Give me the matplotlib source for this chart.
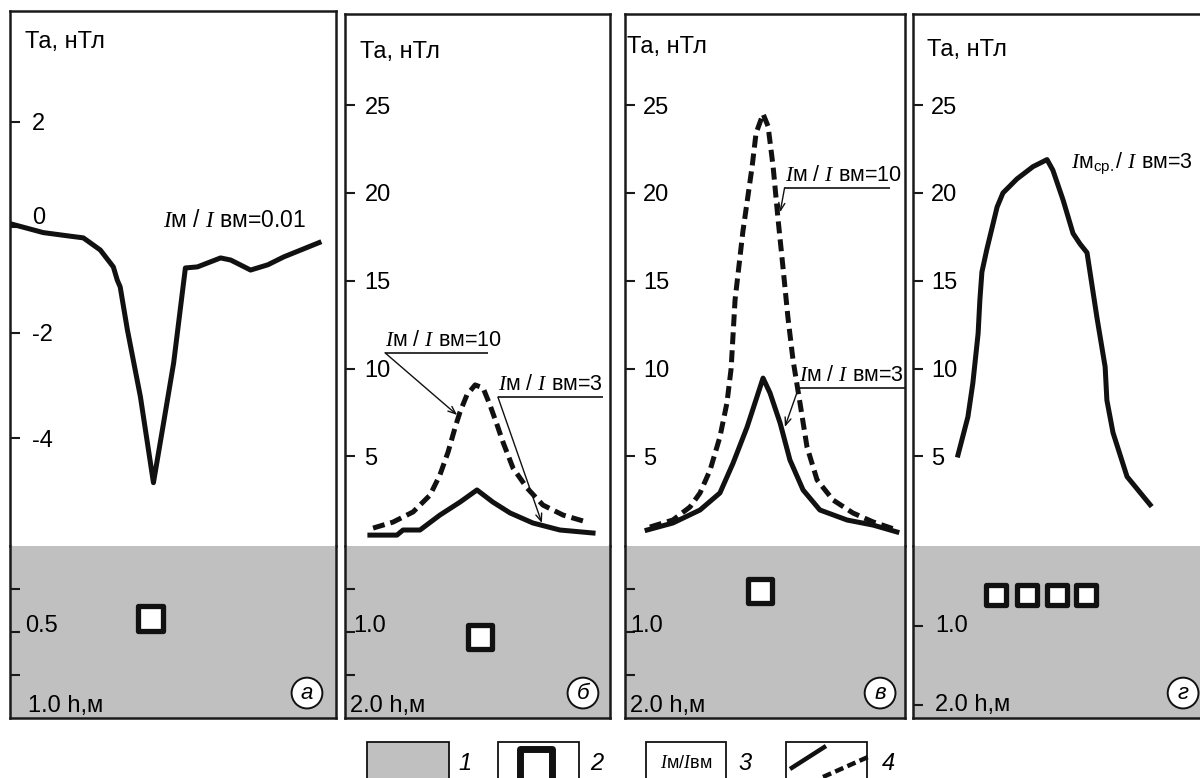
import numpy as np
import matplotlib
matplotlib.use("Agg")
from matplotlib import pyplot as plt
from matplotlib.markers import MarkerStyle
from matplotlib.patches import Rectangle

plt.rcParams['font.family'] = ['Liberation Sans', 'DejaVu Sans']
plt.rcParams['mathtext.fontset'] = 'custom'
plt.rcParams['mathtext.it'] = 'Liberation Serif:italic'
plt.rcParams['mathtext.rm'] = 'Liberation Sans'

W, H = 1200, 778
INK = '#111111'
GRAY = '#c0c0c0'
FS = 17
FS_R = 15.5

# ---- data (x: position along profile, 0..100 of panel width) ----
# panel а : Im/Ivm = 0.01
a_x = [0, 10.2, 17.5, 22.5, 27.7, 31.7, 32.9, 33.8, 36.0, 40.0, 44.0, 47.1,
       50.2, 53.8, 57.5, 64.6, 67.7, 73.8, 79.1, 84.0, 94.8]
a_ta = [0.07, -0.10, -0.16, -0.20, -0.43, -0.75, -1.00, -1.13, -1.94, -3.21,
        -4.84, -3.71, -2.57, -0.77, -0.75, -0.58, -0.62, -0.81, -0.71, -0.56, -0.29]

# panel б
b10_x = [10.6, 18.1, 25.7, 32.1, 35.8, 38.9, 41.5, 43.4, 46.0, 49.1, 52.1,
         54.7, 57.4, 59.6, 63.4, 68.7, 74.7, 82.3, 91.3]
b10_ta = [0.92, 1.26, 1.84, 2.80, 3.94, 5.25, 6.62, 7.53, 8.50, 9.07, 8.90,
          7.93, 6.79, 5.82, 4.34, 3.20, 2.23, 1.66, 1.26]
b3_x = [9.4, 19.6, 21.9, 28.3, 35.8, 43.4, 49.8, 55.8, 62.3, 70.9, 81.1, 93.6]
b3_ta = [0.52, 0.52, 0.81, 0.81, 1.66, 2.40, 3.09, 2.40, 1.78, 1.21, 0.81, 0.64]

# panel в
c10_x = [8.9, 17.1, 23.2, 26.8, 30.4, 33.9, 36.4, 37.9, 39.3, 42.1, 45.4, 46.8,
         49.3, 51.1, 52.9, 54.6, 56.4, 58.2, 60.0, 62.5, 65.0, 68.6, 74.3,
         81.4, 88.6, 97.1]
c10_ta = [0.98, 1.38, 2.12, 2.92, 4.23, 6.11, 8.04, 10.0, 13.9, 17.8, 21.5, 23.4,
          24.5, 23.8, 21.5, 18.6, 15.8, 12.9, 10.5, 8.04, 5.54, 3.66, 2.52,
          1.78, 1.27, 0.81]
c3_x = [7.9, 17.1, 26.8, 33.9, 38.6, 43.6, 47.1, 49.3, 51.8, 55.4, 58.9, 63.6,
        69.6, 79.3, 88.6, 97.1]
c3_ta = [0.81, 1.21, 1.95, 2.92, 4.62, 6.67, 8.38, 9.46, 8.61, 6.90, 4.80, 3.09,
         1.95, 1.38, 1.09, 0.70]

# panel г : Im ср./Ivm = 3
d_x = [15.4, 18.8, 20.5, 22.3, 22.9, 23.6, 25.3, 28.8, 30.8, 35.6, 41.1, 45.9,
       47.9, 51.4, 54.8, 57.2, 59.6, 63.0, 65.8, 66.4, 68.5, 73.3, 81.2]
d_ta = [5.08, 7.25, 9.18, 12.0, 13.9, 15.5, 16.8, 19.2, 20.0, 20.8, 21.5, 21.9,
        21.3, 19.6, 17.7, 17.1, 16.6, 12.9, 10.1, 8.2, 6.35, 3.85, 2.25]

# bodies (x, depth in m)
a_body_x, a_body_h = [42.9], [0.42]
b_body_x, b_body_h = [50.9], [1.06]
c_body_x, c_body_h = [48.2], [0.52]
d_body_x, d_body_h = [28.4, 39.0, 49.3, 59.2], [0.62, 0.62, 0.62, 0.62]

ticks_a = [-4, -2, 0, 2]
ticks_bcd = [5, 10, 15, 20, 25]

GRAY_TOP = 546
BOTTOM = 718


def frac(l, t, r, b):
    return [l / W, 1 - b / H, (r - l) / W, (b - t) / H]


def style_spines(ax, hide):
    for k, s in ax.spines.items():
        s.set_linewidth(1.8)
        s.set_color('#1a1a1a')
    ax.spines[hide].set_visible(False)


def panel(left, top, right, ta_lim, ta_ticks, ta_labels, pad, h_lim, h_ticks):
    top_ax = fig.add_axes(frac(left, top, right, GRAY_TOP))
    bot_ax = fig.add_axes(frac(left, GRAY_TOP, right, BOTTOM))
    style_spines(top_ax, 'bottom')
    style_spines(bot_ax, 'top')
    bot_ax.set_facecolor(GRAY)
    for ax in (top_ax, bot_ax):
        ax.set_xlim(0, 100)
        ax.set_xticks([])
        ax.tick_params(axis='y', direction='in', length=7, width=1.5,
                       color='#1a1a1a', labelsize=FS, pad=pad)
    top_ax.set_ylim(*ta_lim)
    top_ax.set_yticks(ta_ticks)
    top_ax.set_yticklabels(ta_labels)
    plt.setp(top_ax.get_yticklabels(), ha='left')
    bot_ax.set_ylim(*h_lim)
    bot_ax.set_yticks(h_ticks)
    bot_ax.set_yticklabels([])
    return top_ax, bot_ax


def body(ax, xs, hs, ms):
    mk = MarkerStyle('s', joinstyle='round')
    ax.plot(xs, hs, ls='none', marker=mk, ms=ms, mfc='white', mec=INK, mew=3.8)


def ratio_label(ax, x0, x1, y, tip, text):
    lo, hi = ax.get_ylim()
    ax.text(x0, y + 0.004 * (hi - lo), text, fontsize=FS_R, ha='left', va='bottom')
    ax.plot([x0, x1], [y, y], color=INK, lw=1.2, solid_capstyle='butt')
    ax.annotate('', xy=tip, xytext=(x0, y),
                arrowprops=dict(arrowstyle='->,head_length=0.55,head_width=0.22',
                                lw=1.0, color=INK, shrinkA=0, shrinkB=0))


def circ(ax, x, letter):
    ax.text(x, 0.145, letter, transform=ax.transAxes, fontsize=16, style='italic',
            ha='center', va='center',
            bbox=dict(boxstyle='circle,pad=0.22', fc='white', ec=INK, lw=1.4))


fig = plt.figure(figsize=(12, 7.78), dpi=100)

lab_r = '$I$м / $I$ вм='
lab_bcd = [str(v) for v in ticks_bcd]

# ---- а ----
ta, ha = panel(10, 11, 336, (-6.04, 4.10), ticks_a, ['-4', '-2', '', '2'], -16,
               (1.0, 0), [0.25, 0.5, 0.75])
ta.plot(a_x, a_ta, color=INK, lw=3.6, solid_joinstyle='round')
ta.text(0.067, 0.17, '0', fontsize=FS, va='center', transform=ta.get_yaxis_transform())
ta.text(47.0, 0.0, lab_r + '0.01', fontsize=16.5, ha='left', va='baseline')
ta.text(0.046, 0.942, 'Та, нТл', transform=ta.transAxes, fontsize=FS, va='center')
body(ha, a_body_x, a_body_h, 18)
ha.text(0.046, 0.5, '0.5', fontsize=FS, va='baseline',
        transform=ha.get_yaxis_transform())
ha.text(0.055, 0.035, '1.0 h,м', fontsize=FS, va='baseline', transform=ha.transAxes)
circ(ha, 0.911, 'а')

# ---- б ----
tb, hb = panel(345, 14, 610, (-0.10, 30.19), ticks_bcd, lab_bcd, -14,
               (2.0, 0), [0.5, 1.0, 1.5])
tb.plot(b10_x, b10_ta, color=INK, lw=3.6, ls=(0, (2.4, 1.2)))
tb.plot(b3_x, b3_ta, color=INK, lw=3.6, solid_joinstyle='round')
ratio_label(tb, 15.1, 54.0, 10.9, (42.3, 7.36), lab_r + '10')
ratio_label(tb, 57.7, 97.4, 8.38, (74.3, 1.21), lab_r + '3')
tb.text(0.057, 0.929, 'Та, нТл', transform=tb.transAxes, fontsize=FS, va='center')
body(hb, b_body_x, b_body_h, 17)
hb.text(0.03, 1.0, '1.0', fontsize=FS, va='baseline',
        transform=hb.get_yaxis_transform())
hb.text(0.02, 0.035, '2.0 h,м', fontsize=FS, va='baseline', transform=hb.transAxes)
circ(hb, 0.898, 'б')

# ---- в ----
tc, hc = panel(625, 14, 905, (-0.10, 30.19), ticks_bcd, lab_bcd, -13,
               (2.0, 0), [0.5, 1.0, 1.5])
tc.plot(c10_x, c10_ta, color=INK, lw=3.6, ls=(0, (2.4, 1.2)))
tc.plot(c3_x, c3_ta, color=INK, lw=3.6, solid_joinstyle='round')
ratio_label(tc, 57.0, 94.6, 20.3, (55.4, 18.9), lab_r + '10')
ratio_label(tc, 62.0, 100.0, 8.9, (57.1, 6.68), lab_r + '3')
tc.text(0.007, 0.938, 'Та, нТл', transform=tc.transAxes, fontsize=FS, va='center')
body(hc, c_body_x, c_body_h, 17)
hc.text(0.018, 1.0, '1.0', fontsize=FS, va='baseline',
        transform=hc.get_yaxis_transform())
hc.text(0.018, 0.035, '2.0 h,м', fontsize=FS, va='baseline', transform=hc.transAxes)
circ(hc, 0.911, 'в')

# ---- г ----
td, hd = panel(913, 14, 1205, (-0.10, 30.19), ticks_bcd, lab_bcd, -13,
               (2.16, 0), [1.0, 2.0])
td.plot(d_x, d_ta, color=INK, lw=3.6, solid_joinstyle='round')
td.text(54.0, 21.7, '$I$м${}_{\\mathrm{ср.}}$/ $I$ вм=3', fontsize=FS_R,
        ha='left', va='center')
td.text(0.048, 0.932, 'Та, нТл', transform=td.transAxes, fontsize=FS, va='center')
body(hd, d_body_x, d_body_h, 14)
hd.text(0.075, 1.0, '1.0', fontsize=FS, va='center',
        transform=hd.get_yaxis_transform())
hd.text(0.075, 2.0, '2.0 h,м', fontsize=FS, va='center',
        transform=hd.get_yaxis_transform())
circ(hd, 0.925, 'г')

# ---- legend strip ----
lg = fig.add_axes([0, 0, 1, 1])
lg.set_xlim(0, W)
lg.set_ylim(H, 0)
lg.axis('off')
lg.patch.set_alpha(0)
boxes = [(367, 449, GRAY), (498, 579, 'white'), (646, 726, 'white'), (786, 867, 'white')]
for x0, x1, fc in boxes:
    lg.add_patch(Rectangle((x0, 742), x1 - x0, 40, fc=fc, ec=INK, lw=1.3, clip_on=False))
lg.plot([536], [765], ls='none', marker=MarkerStyle('s', joinstyle='round'), ms=23,
        mfc='white', mec=INK, mew=5)
lg.text(686, 764, '$I$м/$I$вм', fontsize=13, ha='center', va='center')
lg.plot([790, 826], [769, 746], color=INK, lw=3.2, solid_capstyle='butt')
lg.plot([823, 868], [777, 757], color=INK, lw=3.2, ls=(0, (2.0, 1.0)))
for x, s in [(465, '1'), (597, '2'), (745, '3'), (888, '4')]:
    lg.text(x, 764, s, fontsize=FS, style='italic', ha='center', va='center')

fig.savefig('out.png', dpi=100)
